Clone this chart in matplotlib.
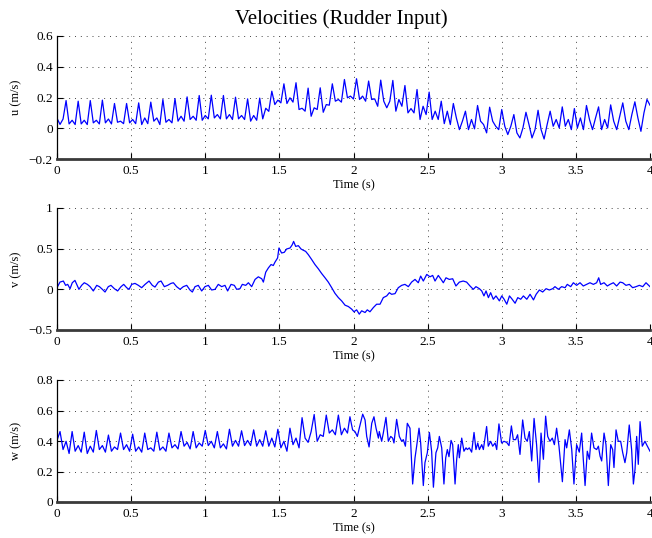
import numpy as np
import matplotlib
matplotlib.use("Agg")
import matplotlib.pyplot as plt
from matplotlib.ticker import FuncFormatter

# ---------------- data ----------------
# u: sampled 4 times per oscillation cycle (peak, fall, bump, low)
u_pre = [0.065, 0.025, 0.060]
u_peak = [0.180, 0.176, 0.180, 0.183, 0.161, 0.161, 0.165, 0.170, 0.187, 0.193,
          0.204, 0.213, 0.215, 0.213, 0.202, 0.191, 0.196, 0.241, 0.289, 0.296,
          0.261, 0.263, 0.289, 0.317, 0.322, 0.307, 0.313, 0.311, 0.278, 0.252,
          0.235, 0.176, 0.161, 0.111, 0.148, 0.137, 0.122, 0.089, 0.104, 0.117,
          0.111, 0.139, 0.128, 0.148, 0.139, 0.152, 0.165, 0.172, 0.187]
u_fall = [0.028, 0.028, 0.035, 0.035, 0.039, 0.035, 0.024, 0.046, 0.039, 0.046,
          0.057, 0.052, 0.067, 0.061, 0.061, 0.046, 0.061, 0.154, 0.161, 0.122,
          0.078, 0.104, 0.176, 0.198, 0.187, 0.187, 0.176, 0.111, 0.100, 0.057,
          0.057, 0.030, 0.067, -0.009, 0.046, 0.046, 0.013, -0.030, 0.024, -0.009,
          0.013, 0.013, 0.002, 0.057, -0.009, 0.046, 0.046, 0.067, 0.150]
u_bump = [0.052, 0.052, 0.052, 0.060, 0.046, 0.057, 0.067, 0.067, 0.057, 0.078,
          0.078, 0.083, 0.089, 0.089, 0.083, 0.083, 0.130, 0.183, 0.198, 0.130,
          0.133, 0.154, 0.187, 0.209, 0.209, 0.191, 0.133, 0.187, 0.128, 0.143,
          0.111, 0.111, -0.009, 0.057, 0.024, 0.013, -0.041, -0.063, -0.063, -0.070,
          0.057, 0.057, 0.067, -0.009, 0.057, -0.009, -0.009, -0.020, 0.100]
u_low = [0.024, 0.024, 0.028, 0.028, 0.030, 0.030, 0.030, 0.024, 0.035, 0.046,
         0.052, 0.061, 0.061, 0.057, 0.057, 0.052, 0.110, 0.165, 0.170, 0.111,
         0.122, 0.150, 0.170, 0.190, 0.176, 0.143, 0.176, 0.143, 0.100, 0.089,
         0.057, 0.024, 0.046, -0.004, -0.030, -0.009, 0.013, 0.002, -0.009, 0.024,
         0.002, -0.009, -0.009, 0.067, 0.002, 0.078, 0.089, 0.100, 0.100]

# v: time / value pairs
v_t = [0.000, 0.020, 0.043, 0.058, 0.072, 0.088, 0.103, 0.121, 0.133, 0.148,
       0.166, 0.184, 0.205, 0.223, 0.245, 0.268, 0.286, 0.306, 0.324, 0.346,
       0.364, 0.387, 0.409, 0.432, 0.450, 0.470, 0.486, 0.504, 0.526, 0.549,
       0.571, 0.594, 0.621, 0.643, 0.661, 0.684, 0.702, 0.724, 0.746, 0.769,
       0.785, 0.807, 0.830, 0.852, 0.875, 0.897, 0.913, 0.931, 0.953, 0.976,
       0.998, 1.021, 1.043, 1.066, 1.088, 1.111, 1.133, 1.151, 1.174, 1.196,
       1.212, 1.234, 1.250, 1.273, 1.291, 1.313, 1.336, 1.358, 1.381, 1.392,
       1.408, 1.426, 1.444, 1.459, 1.470, 1.488, 1.497, 1.515, 1.533, 1.549,
       1.572, 1.587, 1.596, 1.610, 1.628, 1.646, 1.662, 1.677, 1.695, 1.718,
       1.740, 1.763, 1.785, 1.808, 1.830, 1.853, 1.875, 1.898, 1.920, 1.943,
       1.965, 1.988,
       2.003, 2.021, 2.039, 2.055, 2.078, 2.093, 2.111, 2.134, 2.156, 2.179,
       2.201, 2.224, 2.242, 2.257, 2.280, 2.302, 2.325, 2.347, 2.370, 2.392,
       2.415, 2.437, 2.453, 2.471, 2.494, 2.516, 2.534, 2.550, 2.572, 2.588,
       2.606, 2.624, 2.646, 2.669, 2.691, 2.714, 2.740, 2.763, 2.786, 2.808,
       2.826, 2.849, 2.865, 2.880, 2.894, 2.910, 2.925, 2.943, 2.961, 2.984,
       3.000, 3.016, 3.034, 3.052, 3.067, 3.090, 3.108, 3.128, 3.146, 3.169,
       3.191, 3.214, 3.232, 3.254, 3.276, 3.299, 3.321, 3.344, 3.359, 3.382,
       3.404, 3.427, 3.442, 3.465, 3.483, 3.505, 3.528, 3.550, 3.573, 3.595,
       3.618, 3.640, 3.654, 3.667, 3.690, 3.712, 3.730, 3.753, 3.775, 3.798,
       3.816, 3.838, 3.861, 3.883, 3.906, 3.928, 3.951, 3.973, 4.000]
v_v = [0.020, 0.089, 0.102, 0.049, 0.061, 0.008, 0.081, 0.110, 0.061, 0.000,
       0.049, 0.081, 0.061, 0.033, -0.020, 0.049, 0.033, 0.000, -0.033, 0.033,
       0.049, 0.008, -0.020, 0.033, 0.061, 0.020, 0.000, 0.061, 0.073, 0.049,
       0.020, 0.061, 0.102, 0.049, 0.028, 0.089, 0.102, 0.033, 0.049, 0.073,
       0.081, 0.033, 0.000, 0.033, 0.049, -0.008, -0.033, 0.033, 0.049, -0.020,
       0.033, 0.049, -0.008, 0.000, 0.061, 0.033, 0.049, -0.020, 0.061, 0.049,
       0.000, 0.008, 0.061, 0.049, 0.081, 0.033, 0.122, 0.154, 0.130, 0.089,
       0.211, 0.264, 0.305, 0.293, 0.333, 0.386, 0.508, 0.447, 0.455, 0.496,
       0.508, 0.549, 0.589, 0.528, 0.537, 0.496, 0.480, 0.467, 0.427, 0.366,
       0.305, 0.252, 0.195, 0.142, 0.089, 0.020, -0.049, -0.102, -0.142, -0.195,
       -0.211, -0.244,
       -0.276, -0.252, -0.305, -0.264, -0.285, -0.252, -0.276, -0.224, -0.183, -0.183,
       -0.102, -0.081, -0.041, -0.061, -0.053, 0.020, 0.049, 0.061, 0.033, 0.089,
       0.122, 0.081, 0.163, 0.102, 0.183, 0.154, 0.171, 0.102, 0.171, 0.130,
       0.081, 0.142, 0.122, 0.130, 0.041, 0.089, 0.102, 0.089, 0.041, 0.000,
       0.033, 0.008, -0.020, -0.081, -0.020, -0.102, -0.041, -0.122, -0.081, -0.142,
       -0.081, -0.122, -0.183, -0.081, -0.114, -0.171, -0.102, -0.122, -0.081, -0.122,
       -0.061, -0.130, -0.061, -0.008, -0.033, 0.008, -0.008, 0.008, 0.033, 0.000,
       0.033, 0.020, 0.061, 0.033, 0.081, 0.049, 0.081, 0.041, 0.061, 0.081,
       0.061, 0.081, 0.142, 0.061, 0.081, 0.041, 0.061, 0.081, 0.041, 0.089,
       0.081, 0.049, 0.061, 0.020, 0.033, 0.049, 0.033, 0.081, 0.033]

# w: first half sampled per cycle, second half time / value pairs
w_pre = [0.404]
w_peak = [0.462, 0.462, 0.458, 0.469, 0.439, 0.452, 0.445, 0.452, 0.458, 0.452,
          0.462, 0.462, 0.469, 0.462, 0.477, 0.467, 0.473, 0.467, 0.477, 0.484,
          0.553, 0.574, 0.570, 0.570]
w_fall = [0.344, 0.333, 0.318, 0.344, 0.333, 0.344, 0.333, 0.344, 0.340, 0.355,
          0.366, 0.355, 0.370, 0.355, 0.366, 0.370, 0.366, 0.366, 0.355, 0.376,
          0.419, 0.398, 0.452, 0.441]
w_bump = [0.398, 0.370, 0.366, 0.370, 0.361, 0.376, 0.361, 0.355, 0.361, 0.376,
          0.391, 0.387, 0.398, 0.381, 0.404, 0.404, 0.409, 0.419, 0.398, 0.419,
          0.391, 0.441, 0.473, 0.484]
w_low = [0.318, 0.327, 0.327, 0.327, 0.344, 0.333, 0.327, 0.333, 0.333, 0.348,
         0.348, 0.366, 0.355, 0.348, 0.366, 0.370, 0.366, 0.361, 0.333, 0.355,
         0.462, 0.430, 0.441, 0.452]
w2_t = [1.976, 1.994, 2.010, 2.026, 2.039, 2.062, 2.078, 2.089, 2.105, 2.116,
        2.123, 2.138, 2.152, 2.168, 2.174, 2.190, 2.201, 2.219, 2.235, 2.251,
        2.264, 2.273, 2.291, 2.309, 2.325, 2.336, 2.350, 2.363, 2.381, 2.399,
        2.415, 2.426, 2.442, 2.453, 2.471, 2.482, 2.498, 2.512, 2.527, 2.539,
        2.556, 2.568, 2.579, 2.595, 2.610, 2.622, 2.633, 2.644, 2.658, 2.669,
        2.685, 2.696, 2.707, 2.714, 2.730, 2.745, 2.759, 2.768, 2.781, 2.797,
        2.813, 2.826, 2.838, 2.849, 2.865, 2.876, 2.898, 2.909, 2.925, 2.939,
        2.955, 2.966, 2.981, 2.999, 3.015, 3.033, 3.049, 3.065, 3.078, 3.094,
        3.107, 3.123, 3.141, 3.157, 3.172, 3.186, 3.202, 3.218, 3.235, 3.251,
        3.265, 3.281, 3.296, 3.310, 3.325, 3.341, 3.355, 3.370, 3.386, 3.409,
        3.427, 3.438, 3.456, 3.472, 3.487, 3.505, 3.523, 3.539, 3.550, 3.562,
        3.577, 3.591, 3.606, 3.622, 3.640, 3.652, 3.663, 3.674, 3.690, 3.703,
        3.719, 3.735, 3.748, 3.757, 3.771, 3.786, 3.802, 3.816, 3.831, 3.843,
        3.860, 3.876, 3.888, 3.899, 3.910, 3.921, 3.933, 3.948, 3.966, 3.977,
        4.000]
w2_v = [0.559, 0.473, 0.462, 0.430, 0.484, 0.576, 0.538, 0.430, 0.361, 0.452,
        0.516, 0.559, 0.484, 0.419, 0.462, 0.398, 0.452, 0.555, 0.398, 0.430,
        0.419, 0.387, 0.542, 0.430, 0.398, 0.409, 0.366, 0.516, 0.484, 0.118,
        0.290, 0.366, 0.484, 0.387, 0.108, 0.258, 0.323, 0.456, 0.333, 0.097,
        0.323, 0.355, 0.430, 0.355, 0.118, 0.290, 0.344, 0.297, 0.404, 0.376,
        0.118, 0.280, 0.376, 0.290, 0.419, 0.333, 0.355, 0.344, 0.355, 0.327,
        0.456, 0.344, 0.387, 0.344, 0.376, 0.344, 0.495, 0.366, 0.398, 0.366,
        0.387, 0.344, 0.512, 0.387, 0.398, 0.391, 0.370, 0.499, 0.409, 0.409,
        0.441, 0.312, 0.538, 0.419, 0.398, 0.462, 0.269, 0.548, 0.376, 0.129,
        0.452, 0.280, 0.563, 0.430, 0.398, 0.419, 0.376, 0.484, 0.366, 0.133,
        0.409, 0.355, 0.473, 0.344, 0.118, 0.376, 0.327, 0.452, 0.280, 0.108,
        0.333, 0.280, 0.452, 0.355, 0.344, 0.366, 0.301, 0.269, 0.452, 0.376,
        0.108, 0.376, 0.344, 0.226, 0.473, 0.398, 0.398, 0.323, 0.258, 0.323,
        0.505, 0.344, 0.118, 0.215, 0.430, 0.247, 0.527, 0.366, 0.398, 0.376,
        0.333]

x_ticks = [0, 0.5, 1, 1.5, 2, 2.5, 3, 3.5, 4]
u_ticks = [-0.2, 0, 0.2, 0.4, 0.6]
v_ticks = [-0.5, 0, 0.5, 1]
w_ticks = [0, 0.2, 0.4, 0.6, 0.8]

# ---------------- assemble series ----------------
T_END = 4.0
N_SAMPLES = 197
dt = T_END / (N_SAMPLES - 1)


def cycles(pre, *parts):
    seq = list(pre)
    for vals in zip(*parts):
        seq.extend(vals)
    return np.array(seq)


u = cycles(u_pre, u_peak, u_fall, u_bump, u_low)[:N_SAMPLES]
t_u = np.arange(len(u)) * dt

w1 = cycles(w_pre, w_peak, w_fall, w_bump, w_low)
t_w = np.concatenate([np.arange(len(w1)) * dt, np.array(w2_t)])
w = np.concatenate([w1, np.array(w2_v)])

# ---------------- plotting ----------------
plt.rcParams['font.family'] = ['Liberation Serif', 'DejaVu Serif']
fig = plt.figure(figsize=(6.52, 5.38), dpi=100)
W, H = 652.0, 538.0
left = 57 / W
width = (650 - 57) / W


def fmt(x, pos):
    s = ('%g' % round(x, 3))
    if s == '-0':
        s = '0'
    return s.replace('-', '\u2212')


panels = [
    (t_u, u, (36, 159), (-0.2, 0.6), u_ticks, 'u (m/s)'),
    (np.array(v_t), np.array(v_v), (208, 330), (-0.5, 1.0), v_ticks, 'v (m/s)'),
    (t_w, w, (380, 502), (0.0, 0.8), w_ticks, 'w (m/s)'),
]

for tt, yy, (top, bot), ylim, yt, lab in panels:
    ax = fig.add_axes([left, 1 - bot / H, width, (bot - top) / H])
    ax.plot(tt, yy, color='#0000ff', lw=0.9)
    ax.set_xlim(0, 4)
    ax.set_ylim(*ylim)
    ax.set_xticks(x_ticks)
    ax.set_yticks(yt)
    ax.xaxis.set_major_formatter(FuncFormatter(fmt))
    ax.yaxis.set_major_formatter(FuncFormatter(fmt))
    ax.grid(True, color='#444444', linestyle=(0, (1, 5)), lw=0.7)
    ax.spines['top'].set_visible(False)
    ax.spines['right'].set_visible(False)
    ax.spines['left'].set_linewidth(0.9)
    ax.spines['bottom'].set_linewidth(2.0)
    ax.spines['bottom'].set_color('#3a3a3a')
    ax.tick_params(direction='in', length=4, width=0.8, labelsize=9.5,
                   top=False, right=False, pad=3)
    ax.tick_params(axis='x', pad=4)
    ax.set_xlabel('Time (s)', fontsize=9, labelpad=2)
    fig.text(16 / W, 1 - (top + bot) / 2 / H, lab, rotation=90,
             ha='center', va='center', fontsize=9)

fig.text(341 / W, 1 - 19 / H, 'Velocities (Rudder Input)', ha='center',
         va='center', fontsize=15)

fig.savefig('out.png', dpi=100)
